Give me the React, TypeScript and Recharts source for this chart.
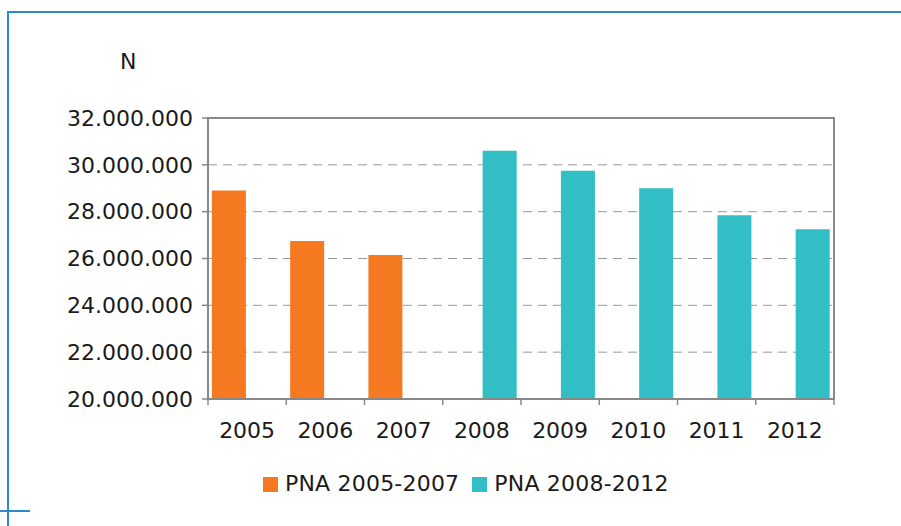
import React from 'react';
import { BarChart, Bar, XAxis, YAxis, CartesianGrid, ReferenceArea } from 'recharts';

const years = ['2005', '2006', '2007', '2008', '2009', '2010', '2011', '2012'];
const pna0507: (number | null)[] = [28900000, 26750000, 26150000, null, null, null, null, null];
const pna0812: (number | null)[] = [null, null, null, 30600000, 29750000, 29000000, 27850000, 27250000];
const yTicks = [20000000, 22000000, 24000000, 26000000, 28000000, 30000000, 32000000];
const seriesNames = ['PNA 2005-2007', 'PNA 2008-2012'];
const colors = ['#F47920', '#31BFC5'];

const data = years.map((y, i) => ({ year: y, a: pna0507[i], b: pna0812[i] }));

const FONT = '"DejaVu Sans", Verdana, sans-serif';
const FS = 22;
const fmt = (v: number) => String(v).replace(/\B(?=(\d{3})+(?!\d))/g, '.');

const XTick = (props: any) => {
  const { x, y, payload, index, visibleTicksCount } = props;
  const half = payload && payload.offset ? payload.offset : 39;
  return (
    <g>
      <line x1={x - half} x2={x - half} y1={y} y2={y + 6} stroke="#888" strokeWidth={1.5} />
      {index === visibleTicksCount - 1 && (
        <line x1={x + half} x2={x + half} y1={y} y2={y + 6} stroke="#888" strokeWidth={1.5} />
      )}
      <text x={x} y={y + 23} dy="0.71em" textAnchor="middle" fill="#1a1a1a" fontSize={FS} fontFamily={FONT}>
        {payload.value}
      </text>
    </g>
  );
};

export default function App() {
  return (
    <div style={{ position: 'absolute', left: 0, top: 0, width: 901, height: 526, background: '#fff', overflow: 'hidden' }}>
      <div style={{ position: 'absolute', left: 7, top: 11, width: 894, height: 2, background: '#2E8BCB' }} />
      <div style={{ position: 'absolute', left: 7, top: 11, width: 2, height: 515, background: '#2E8BCB' }} />
      <div style={{ position: 'absolute', left: 0, top: 510, width: 30, height: 2, background: '#2E8BCB' }} />
      <div style={{ position: 'absolute', left: 120, top: 50, fontFamily: FONT, fontSize: FS, color: '#1a1a1a', lineHeight: '24px' }}>N</div>
      <BarChart
        width={901}
        height={526}
        data={data}
        margin={{ top: 118, right: 67, left: 0, bottom: 97 }}
        barCategoryGap="5%"
        barGap={2}
      >
        <CartesianGrid vertical={false} stroke="#999" strokeDasharray="9 6" />
        <XAxis
          dataKey="year"
          height={30}
          axisLine={{ stroke: '#888', strokeWidth: 2 }}
          tickLine={false}
          tickSize={0}
          tickMargin={0}
          tick={<XTick />}
          interval={0}
        />
        <YAxis
          width={208}
          domain={[20000000, 32000000]}
          ticks={yTicks}
          allowDataOverflow
          tickFormatter={fmt}
          axisLine={{ stroke: '#888', strokeWidth: 2 }}
          tickLine={{ stroke: '#888', strokeWidth: 1.5 }}
          tickSize={6}
          tickMargin={9}
          tick={{ fill: '#1a1a1a', fontSize: FS, fontFamily: FONT }}
        />
        <Bar dataKey="a" name={seriesNames[0]} fill={colors[0]} isAnimationActive={false} />
        <Bar dataKey="b" name={seriesNames[1]} fill={colors[1]} isAnimationActive={false} />
        <ReferenceArea y1={20000000} y2={32000000} fill="none" stroke="#888" strokeWidth={2} ifOverflow="visible" />
      </BarChart>
      <div style={{ position: 'absolute', left: 263, top: 471, display: 'flex', alignItems: 'center', fontFamily: FONT, fontSize: FS, color: '#1a1a1a', lineHeight: '26px' }}>
        {seriesNames.map((n, i) => (
          <div key={n} style={{ display: 'flex', alignItems: 'center', marginRight: 13 }}>
            <div style={{ width: 15, height: 15, background: colors[i], marginRight: 7 }} />
            <span style={{ letterSpacing: 0.2 }}>{n}</span>
          </div>
        ))}
      </div>
    </div>
  );
}
